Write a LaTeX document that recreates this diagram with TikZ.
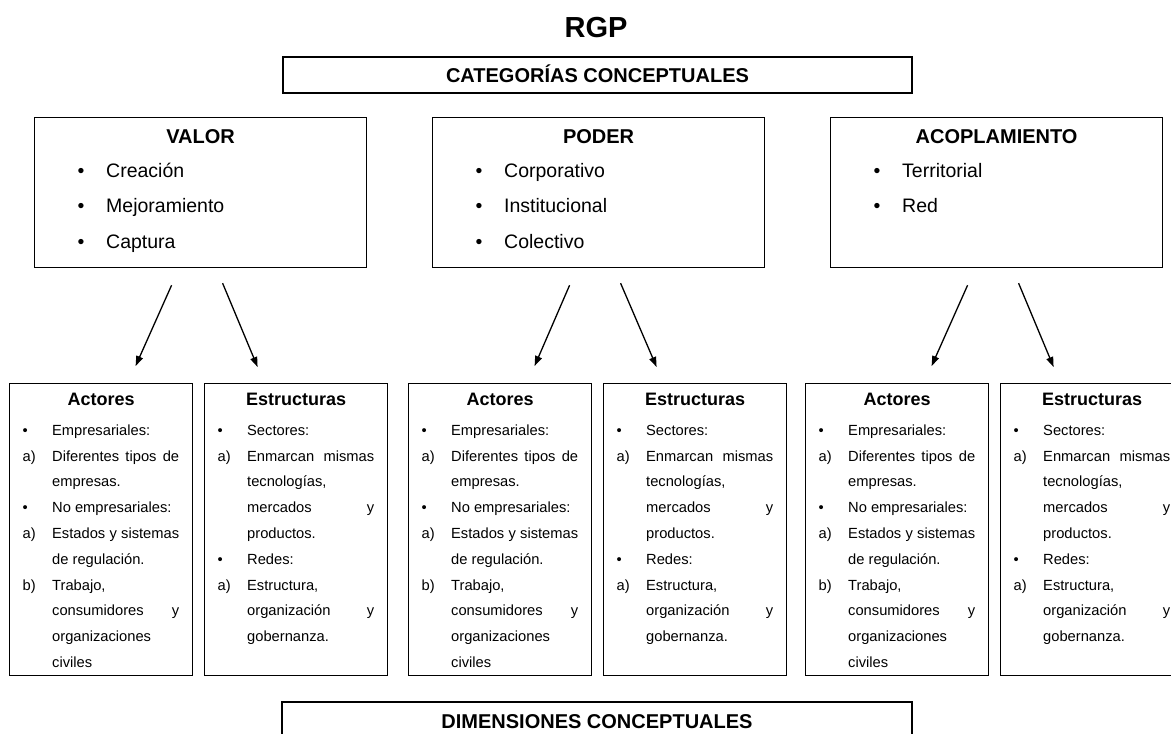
\documentclass[tikz,border=0pt]{standalone}
\usepackage{fontspec}
\setmainfont{Liberation Sans}
\usetikzlibrary{arrows.meta,calc}
\newcommand{\fuente}[2]{\fontsize{#1}{#2}\selectfont}
\newlength{\colw}\setlength{\colw}{127pt}
\newcommand{\lleno}[1]{\makebox[\colw][s]{#1}}
\newcommand{\actores}{%
	\begin{tabular}{@{}p{29.5pt}@{}p{\colw}@{}}
	\textbullet & Empresariales:\\
	a) & \lleno{Diferentes tipos de}\\
	 & empresas.\\
	\textbullet & No empresariales:\\
	a) & \lleno{Estados y sistemas}\\
	 & de regulación.\\
	b) & Trabajo,\\
	 & consumidores\hfill y\\
	 & organizaciones\\
	 & civiles
	\end{tabular}}
\newcommand{\estructuras}{%
	\begin{tabular}{@{}p{29.5pt}@{}p{\colw}@{}}
	\textbullet & Sectores:\\
	a) & \lleno{Enmarcan mismas}\\
	 & tecnologías,\\
	 & mercados\hfill y\\
	 & productos.\\
	\textbullet & Redes:\\
	a) & Estructura,\\
	 & organización\hfill y\\
	 & gobernanza.
	\end{tabular}}

\begin{document}
\begin{tikzpicture}[x=1pt,y=-1pt,
	caja/.style={draw,line width=1.2pt,inner sep=0pt},
	titulo/.style={font=\fuente{20}{24}\bfseries,inner sep=0pt,text height=14.3pt,text depth=0pt},
	item/.style={font=\fuente{19.5}{24},inner sep=0pt,anchor=west,text height=14pt,text depth=4pt},
	encabezado/.style={font=\fuente{18}{22}\bfseries,inner sep=0pt,text height=12.9pt,text depth=0pt},
	lista/.style={font=\fuente{14.7}{25.8},inner sep=0pt,anchor=north west},
	flecha/.style={line width=1.3pt,-{Triangle[length=10pt,width=7pt]}}]

	\useasboundingbox (0,0) rectangle (1171,734);
	\clip (0,0) rectangle (1171,734);

	\node[font=\fuente{29}{32}\bfseries,inner sep=0pt,text height=20.8pt,text depth=0pt] (rgp) at (596,27.5) {RGP};
	\node[caja,titulo,minimum width=629pt,minimum height=36pt] (cat) at (597.5,75) {CATEGORÍAS CONCEPTUALES};
	\node[caja,titulo,minimum width=630pt,minimum height=38pt] (dim) at (597,721) {DIMENSIONES CONCEPTUALES};

	% categorias
	\foreach \n/\x/\t in {valor/34/VALOR,poder/432/PODER,acop/830/ACOPLAMIENTO}{
		\node[caja,minimum width=332pt,minimum height=150pt,anchor=north west] (\n) at (\x,117) {};
		\node[titulo] (\n-t) at ($(\n.north)+(0,19)$) {\t};
	}
	\foreach \n/\i/\t in {valor/1/Creación,valor/2/Mejoramiento,valor/3/Captura,poder/1/Corporativo,poder/2/Institucional,poder/3/Colectivo,acop/1/Territorial,acop/2/Red}{
		\node[item,anchor=center] (\n-b\i) at ($(\n.north west)+(47,{55+35.5*(\i-1)})$) {\textbullet};
		\node[item] (\n-\i) at ($(\n.north west)+(72,{55+35.5*(\i-1)})$) {\t};
	}

	% dimensiones
	\foreach \c/\x in {1/9,2/408,3/805}{
		\node[caja,minimum width=183pt,minimum height=292pt,anchor=north west] (act\c) at (\x,383) {};
		\node[caja,minimum width=183pt,minimum height=292pt,anchor=north west] (est\c) at ({\x+195},383) {};
		\node[encabezado] (act\c-t) at ($(act\c.north)+(0,16)$) {Actores};
		\node[encabezado] (est\c-t) at ($(est\c.north)+(0,16)$) {Estructuras};
		\node[lista] (act\c-l) at ($(act\c.north west)+(13.5,34)$) {\actores};
		\node[lista] (est\c-l) at ($(est\c.north west)+(13.5,34)$) {\estructuras};
	}

	\foreach \n/\a/\e in {valor/act1/est1,poder/act2/est2,acop/act3/est3}{
		\draw[flecha] ($(\n.south)+(-29,17)$) -- ($(\a.north)+(34.5,-17)$);
		\draw[flecha] ($(\n.south)+(22,15)$) -- ($(\e.north)+(-38.5,-16)$);
	}
\end{tikzpicture}
\end{document}
